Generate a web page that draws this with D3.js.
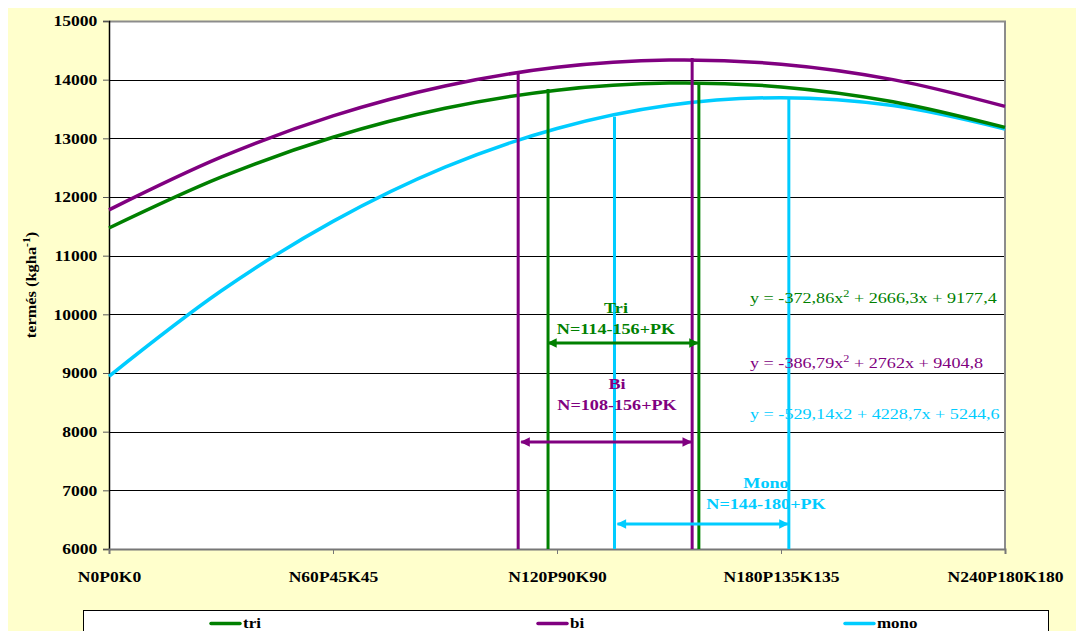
<!DOCTYPE html>
<html>
<head>
<meta charset="utf-8">
<script src="https://cdn.jsdelivr.net/npm/d3@7"></script>
<style>
  body { margin: 0; background: #fff; }
  svg { display: block; font-family: "Liberation Serif", "Times New Roman", serif; }
</style>
</head>
<body>
<svg id="chart" width="1076" height="631"></svg>
<script>
// category labels of the x axis (N kg/ha at 0, 60, 120, 180, 240)
const categories = ['N0P0K0', 'N60P45K45', 'N120P90K90', 'N180P135K135', 'N240P180K180'];
const categoryN = [0, 60, 120, 180, 240];

// points (N kg/ha -> yield)
const curveN = [0, 30, 60, 90, 120, 150, 180, 210, 240];
const triValues = [11471, 12338, 13019, 13513, 13821, 13942, 13877, 13625, 13187];
const biValues = [11780, 12678, 13382, 13892, 14210, 14334, 14264, 14001, 13545];
const monoValues = [8944, 10397, 11585, 12509, 13168, 13563, 13693, 13559, 13160];

const yTicks = [6000, 7000, 8000, 9000, 10000, 11000, 12000, 13000, 14000, 15000];

// optimum ranges drawn as vertical markers: [N from, N to], top values, arrow level
const rangeNames = ['Tri', 'Bi', 'Mono'];
const rangeLabels = ['N=114-156+PK', 'N=108-156+PK', 'N=144-180+PK'];
const rangeFrom = [117.6, 109.6, 135.4];
const rangeTo = [158.0, 156.2, 182.1];
const rangeTopFrom = [13843, 14115, 13367];
const rangeTopTo = [13928, 14370, 13673];
const arrowLevel = [9512, 7824, 6427];

const equations = [
  ['y = -372,86x', '2', ' + 2666,3x + 9177,4'],
  ['y = -386,79x', '2', ' + 2762x + 9404,8'],
  ['y = -529,14x2 + 4228,7x + 5244,6', '', '']
];
const seriesNames = ['tri', 'bi', 'mono'];
const seriesColors = ['#008000', '#800080', '#00CCFF'];

// the source text is wider than the font, so it gets stretched sideways
const stretch = 1.17;

function placeText(parent, x, y, extra) {
  return parent.append('g')
    .attr('transform', `translate(${x},${y})${extra || ''} scale(${stretch},1)`)
    .append('text');
}

function draw() {
  const svg = d3.select('svg#chart');
  const left = 109, right = 1005, top = 21, bottom = 549;

  const x = d3.scaleLinear().domain([0, 240]).range([left, right]);
  const y = d3.scaleLinear().domain([6000, 15000]).range([bottom, top]);

  // backgrounds
  svg.append('rect').attr('x', 8).attr('y', 8).attr('width', 1068).attr('height', 623).attr('fill', '#FFFFCC');
  svg.append('rect').attr('x', left).attr('y', top).attr('width', right - left).attr('height', bottom - top).attr('fill', '#fff');

  // gridlines
  svg.append('g')
    .selectAll('line')
    .data(yTicks.filter((d) => d > 6000 && d < 15000))
    .enter()
    .append('line')
    .attr('x1', left).attr('x2', right)
    .attr('y1', (d) => Math.round(y(d)) + 0.5).attr('y2', (d) => Math.round(y(d)) + 0.5)
    .attr('stroke', '#000').attr('stroke-width', 1);

  // plot border top / right
  svg.append('path')
    .attr('d', `M${left},${top + 0.5}H${right}V${bottom}`)
    .attr('fill', 'none').attr('stroke', '#8c8c8c').attr('stroke-width', 2);

  // y axis
  const yAxis = svg.append('g')
    .attr('transform', `translate(${left},0)`)
    .call(d3.axisLeft(y).tickValues(yTicks).tickSize(6).tickPadding(4).tickFormat(d3.format('d')));
  yAxis.select('.domain').attr('stroke', '#000').attr('stroke-width', 1.5);
  yAxis.selectAll('.tick line').attr('stroke', '#555');
  yAxis.selectAll('text')
    .attr('transform', `scale(${stretch},1)`)
    .attr('font-family', '"Liberation Serif", serif')
    .attr('font-size', 15).attr('font-weight', 'bold').attr('fill', '#000');

  // x axis
  const xAxis = svg.append('g')
    .attr('transform', `translate(0,${bottom})`)
    .call(d3.axisBottom(x).tickValues(categoryN).tickSize(5).tickPadding(17)
      .tickFormat((d, i) => categories[i]));
  xAxis.select('.domain').attr('stroke', '#777').attr('stroke-width', 2);
  xAxis.selectAll('.tick line').attr('stroke', '#777');
  xAxis.selectAll('text')
    .attr('transform', `scale(${stretch},1)`)
    .attr('font-family', '"Liberation Serif", serif')
    .attr('font-size', 15).attr('font-weight', 'bold').attr('fill', '#000');

  // y title
  const yTitle = placeText(svg, 36, 285, ' rotate(-90)')
    .attr('text-anchor', 'middle')
    .attr('font-size', 14).attr('font-weight', 'bold');
  yTitle.append('tspan').text('termés (kgha');
  yTitle.append('tspan').attr('baseline-shift', 'super').attr('font-size', 10).text('-1');
  yTitle.append('tspan').text(')');

  // curves
  const seriesValues = [triValues, biValues, monoValues];
  const line = d3.line()
    .x((d) => x(d[0]))
    .y((d) => y(d[1]))
    .curve(d3.curveCatmullRom);
  const drawOrder = [2, 0, 1];
  drawOrder.forEach((s) => {
    svg.append('path')
      .datum(curveN.map((n, i) => [n, seriesValues[s][i]]))
      .attr('fill', 'none')
      .attr('stroke', seriesColors[s])
      .attr('stroke-width', 3.5)
      .attr('d', line);
  });

  // arrow heads
  const defs = svg.append('defs');
  seriesColors.forEach((c, i) => {
    defs.append('marker')
      .attr('id', `arrow${i}`)
      .attr('viewBox', '0 0 10 10')
      .attr('refX', 9).attr('refY', 5)
      .attr('markerWidth', 3.6).attr('markerHeight', 3.2)
      .attr('markerUnits', 'strokeWidth')
      .attr('orient', 'auto-start-reverse')
      .append('path')
      .attr('d', 'M0,0L10,5L0,10Z')
      .attr('fill', c);
  });

  const rangeOrder = [1, 0, 2];
  rangeOrder.forEach((i) => {
    const c = seriesColors[i];
    const g = svg.append('g');
    g.append('line')
      .attr('x1', x(rangeFrom[i])).attr('x2', x(rangeFrom[i]))
      .attr('y1', y(6000)).attr('y2', y(rangeTopFrom[i]))
      .attr('stroke', c).attr('stroke-width', 3);
    g.append('line')
      .attr('x1', x(rangeTo[i])).attr('x2', x(rangeTo[i]))
      .attr('y1', y(6000)).attr('y2', y(rangeTopTo[i]))
      .attr('stroke', c).attr('stroke-width', 3);
  });

  // double arrows
  const arrowInset = [0, 3, 3];
  rangeOrder.forEach((i) => {
    svg.append('line')
      .attr('x1', x(rangeFrom[i]) + arrowInset[i]).attr('x2', x(rangeTo[i]) - 1)
      .attr('y1', y(arrowLevel[i])).attr('y2', y(arrowLevel[i]))
      .attr('stroke', seriesColors[i]).attr('stroke-width', 3)
      .attr('marker-start', `url(#arrow${i})`)
      .attr('marker-end', `url(#arrow${i})`);
  });

  // range labels
  const labelX = [616, 617, 766];
  const labelY = [313, 389, 488];
  rangeNames.forEach((name, i) => {
    [name, rangeLabels[i]].forEach((txt, k) => {
      placeText(svg, labelX[i], labelY[i] + k * 21)
        .attr('text-anchor', 'middle')
        .attr('font-size', 15.5).attr('font-weight', 'bold')
        .attr('fill', seriesColors[i])
        .text(txt);
    });
  });

  // equations
  const eqY = [303, 368, 419];
  equations.forEach((eq, i) => {
    const t = placeText(svg, 750, eqY[i])
      .attr('font-size', 15.5)
      .attr('fill', seriesColors[i]);
    t.append('tspan').text(eq[0]);
    if (eq[1]) {
      t.append('tspan').attr('dy', -6).attr('font-size', 10.5).text(eq[1]);
      t.append('tspan').attr('dy', 6).text(eq[2]);
    }
  });

  // legend
  svg.append('rect')
    .attr('x', 83.5).attr('y', 610.5).attr('width', 965).attr('height', 40)
    .attr('fill', '#fff').attr('stroke', '#000').attr('stroke-width', 1);
  const legendX = [211, 538, 845];
  seriesNames.forEach((name, i) => {
    svg.append('line')
      .attr('x1', legendX[i]).attr('x2', legendX[i] + 29)
      .attr('y1', 623.5).attr('y2', 623.5)
      .attr('stroke', seriesColors[i]).attr('stroke-width', 3.5)
      .attr('stroke-linecap', 'round');
    placeText(svg, legendX[i] + 32, 627.5)
      .attr('font-size', 14.5).attr('font-weight', 'bold')
      .text(name);
  });
}

draw();
</script>
</body>
</html>
